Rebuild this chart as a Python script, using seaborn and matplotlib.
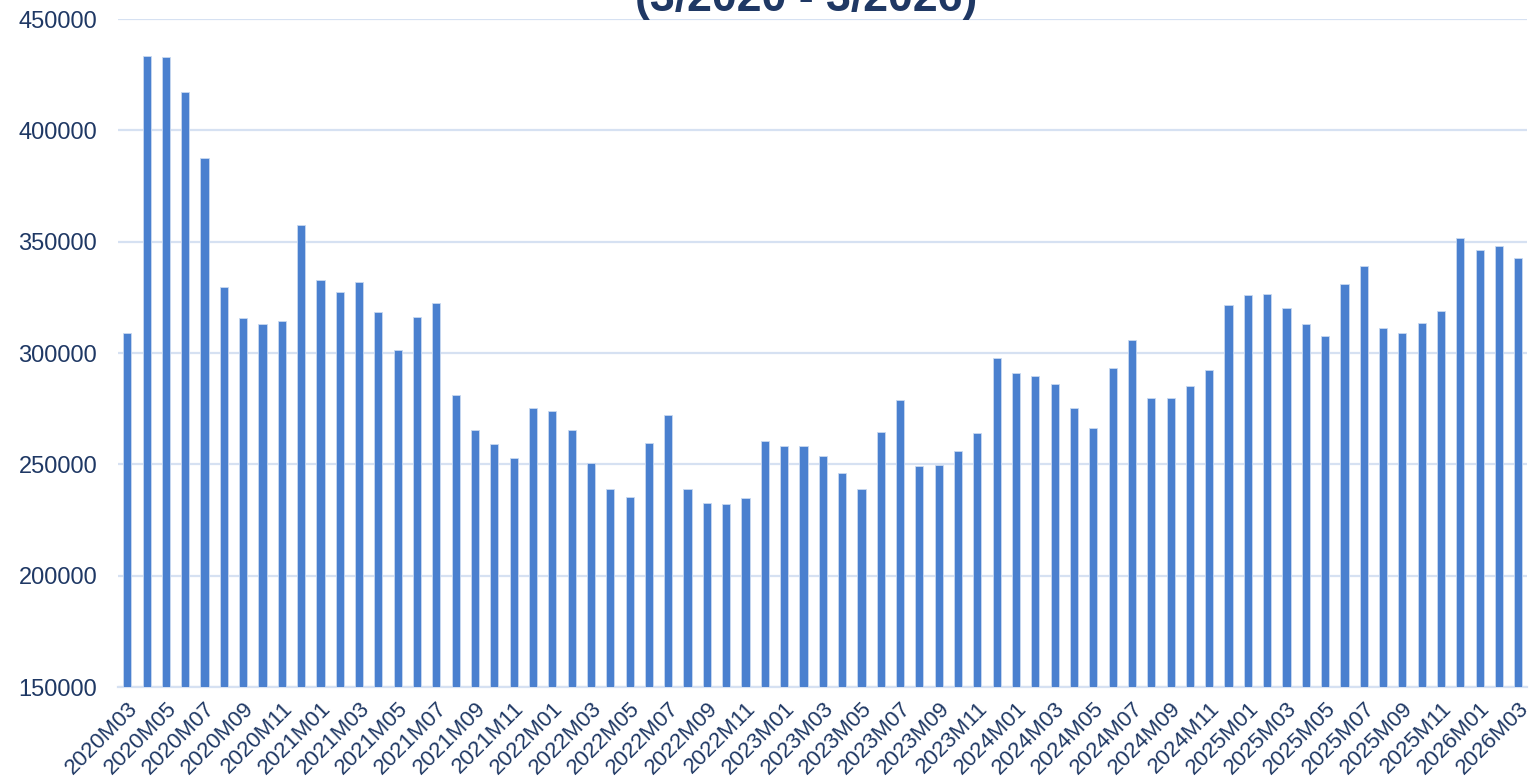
import matplotlib
matplotlib.use("Agg")
import matplotlib.pyplot as plt
import seaborn as sns

# monthly values, 2020M03 .. 2026M03
years = [2020] * 10 + [2021] * 12 + [2022] * 12 + [2023] * 12 + [2024] * 12 + [2025] * 12 + [2026] * 3
months = list(range(3, 13)) + list(range(1, 13)) * 5 + [1, 2, 3]
periods = [f"{y}M{m:02d}" for y, m in zip(years, months)]

values = [
    309000, 433400, 432800, 417100, 387600, 329800, 315900, 312900, 314500, 357500,
    332900, 327300, 331800, 318400, 301200, 316300, 322600, 281000, 265400, 259000, 252700, 275200,
    273800, 265400, 250600, 238800, 235300, 259700, 272200, 239100, 232600, 232300, 234800, 260500,
    258100, 258100, 253900, 246100, 238800, 264700, 278800, 249400, 249700, 256000, 264200, 297800,
    291000, 289700, 286100, 275300, 266300, 293400, 306000, 279600, 279800, 285200, 292400, 321700,
    325900, 326400, 320400, 313200, 307500, 330800, 339200, 311200, 308800, 313600, 318900, 351500,
    346400, 348100, 342800,
]

title_text = "(3/2020 - 3/2026)"
yticks = [150000, 200000, 250000, 300000, 350000, 400000, 450000]

BAR = "#4A80CF"
GRID = "#D6E1F2"
TXT = "#1F3864"

sns.set_theme(style="white")
plt.rcParams["font.family"] = ["Liberation Sans", "DejaVu Sans"]

fig = plt.figure(figsize=(15.4, 7.77), dpi=100)
ax = fig.add_axes([0.0766, 0.1158, 0.9150, 0.8597])

sns.barplot(x=periods, y=values, color=BAR, width=0.42, saturation=1,
            edgecolor="#C9D9F0", linewidth=0.6, ax=ax, zorder=3)

ax.set_ylim(150000, 450000)
ax.set_xlim(-0.48, len(periods) - 0.55)
ax.set_yticks(yticks)
ax.set_yticklabels([str(t) for t in yticks], fontsize=17, color=TXT)

idx = list(range(0, len(periods), 2))
ax.set_xticks(idx)
ax.set_xticklabels([periods[i] for i in idx], rotation=45, ha="right",
                   rotation_mode="anchor", fontsize=16, color=TXT)

ax.yaxis.grid(True, color=GRID, linewidth=1.6, zorder=0)
ax.xaxis.grid(False)
for s in ["top", "right", "left"]:
    ax.spines[s].set_visible(False)
ax.spines["bottom"].set_color(GRID)
ax.spines["bottom"].set_linewidth(1.6)
ax.tick_params(axis="y", length=0, pad=15)
ax.tick_params(axis="x", length=0, pad=8)
ax.set_xlabel("")
ax.set_ylabel("")

# title is partly above the top edge, as in the source picture
fig.text(0.5235, 1 - 11.5 / 777, title_text, ha="center", va="baseline",
         fontsize=32.2, fontweight="bold", color=TXT)

fig.savefig("out.png", dpi=100)
